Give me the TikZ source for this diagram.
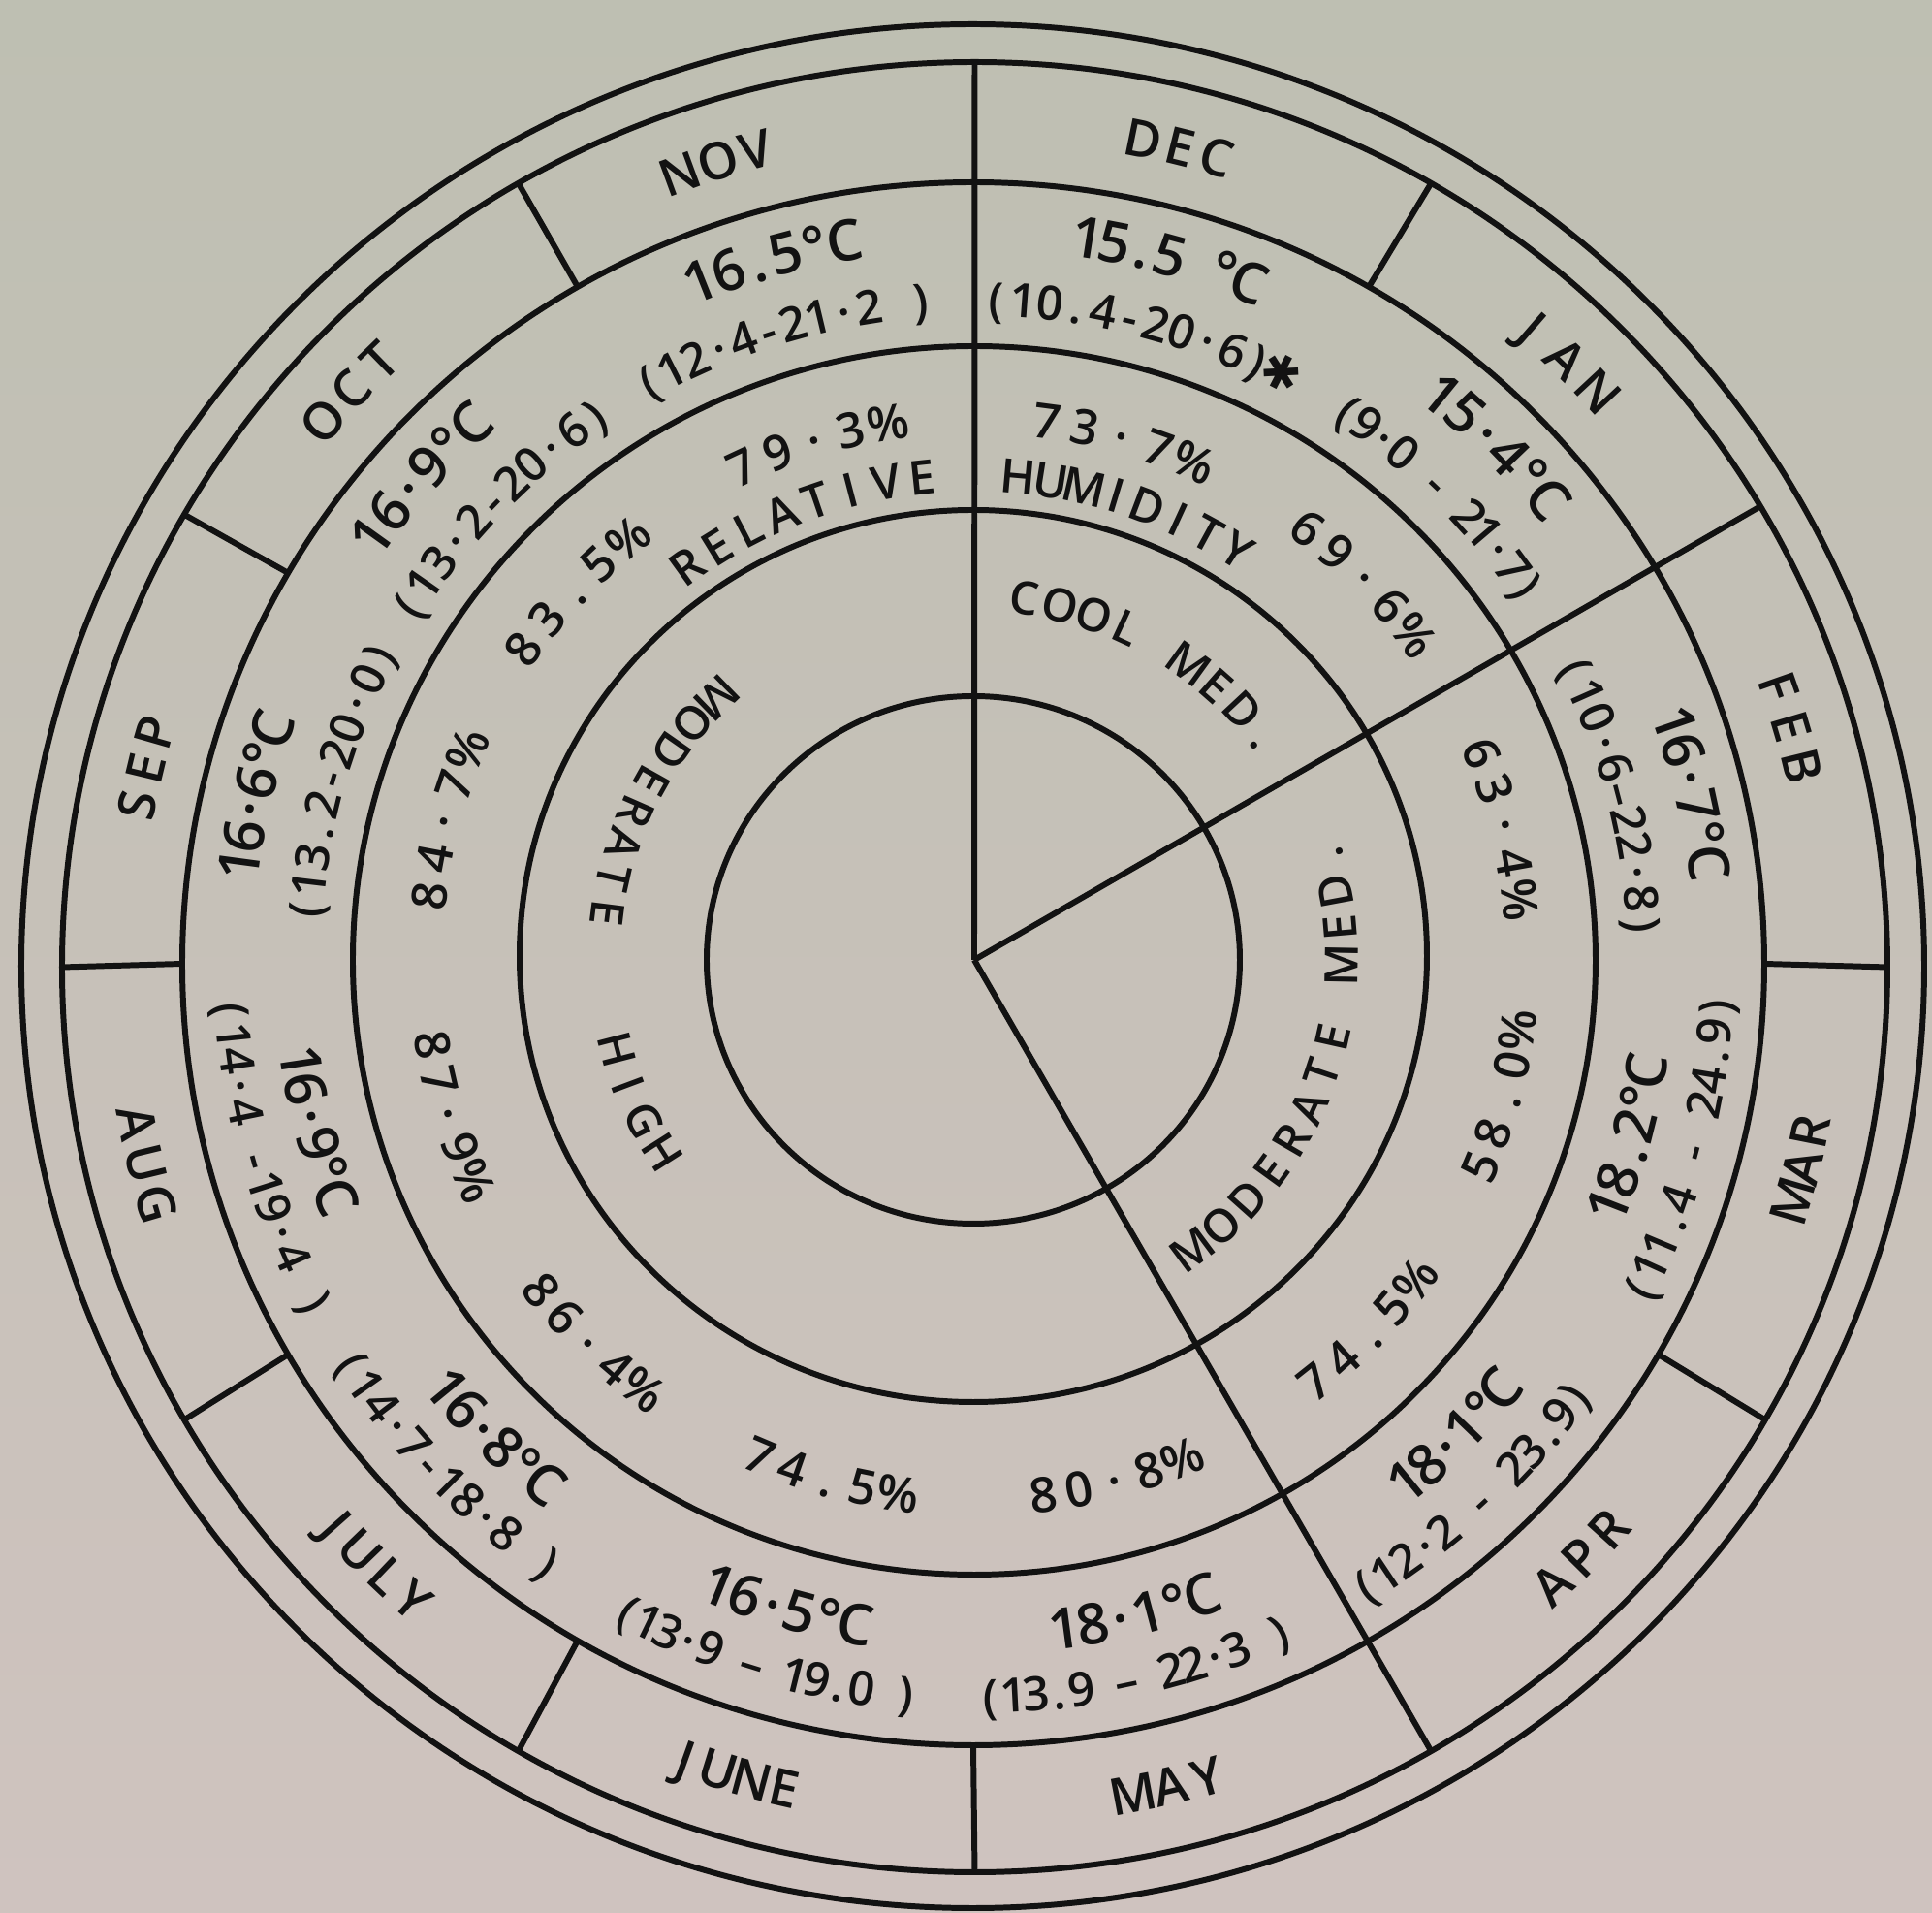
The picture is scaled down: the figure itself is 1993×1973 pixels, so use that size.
\documentclass[tikz,border=0pt]{standalone}
\usepackage{fontspec}
\newfontfamily\lf{Open Sans Semibold}
\newfontfamily\djf{DejaVu Sans}
\definecolor{ink}{RGB}{18,18,18}
\definecolor{bgtop}{RGB}{190,191,178}
\definecolor{bgbot}{RGB}{207,195,191}
\newcommand\arcchar[5]{\node[#4,anchor=base,rotate=#3] at (#1,#2) {#5};}
\ExplSyntaxOn
\fp_new:N \l_arc_ang_fp
\tl_new:N \l_arc_x_tl
\tl_new:N \l_arc_y_tl
\tl_new:N \l_arc_r_tl
\int_new:N \l_arc_n_int
\int_new:N \l_arc_i_int
% #1 baseline radius, #2 centre angle, #3 pitch, #4 direction (-1 clockwise / 1 counter-clockwise), #5 style, #6 text
\NewDocumentCommand \arcstr { m m m m m m }
 {
   \int_set:Nn \l_arc_n_int { \tl_count:n {#6} }
   \int_zero:N \l_arc_i_int
   \tl_map_inline:nn {#6}
    {
      \int_incr:N \l_arc_i_int
      \fp_set:Nn \l_arc_ang_fp { (#2) + (#4) * ( \int_use:N \l_arc_i_int - ( \int_use:N \l_arc_n_int + 1 ) / 2 ) * (#3) / (#1) * 180 / pi }
      \tl_set:Nx \l_arc_x_tl { \fp_eval:n { round( (#1) * cosd ( \l_arc_ang_fp ) , 2) } }
      \tl_set:Nx \l_arc_y_tl { \fp_eval:n { round( (#1) * sind ( \l_arc_ang_fp ) , 2) } }
      \tl_set:Nx \l_arc_r_tl { \fp_eval:n { round( \l_arc_ang_fp + (#4) * 90 , 2) } }
      \arcchar { \l_arc_x_tl } { \l_arc_y_tl } { \l_arc_r_tl } {#5} {##1}
    }
 }
\ExplSyntaxOff
\tikzset{
  chr/.style={inner sep=0pt, outer sep=0pt, text=ink},
  mon/.style={chr, font=\lf\fontsize{15.1}{17}\selectfont},
  tmp/.style={chr, font=\lf\fontsize{16.7}{18}\selectfont},
  rng/.style={chr, font=\lf\fontsize{13.9}{15}\selectfont},
  hum/.style={chr, font=\lf\fontsize{14.3}{16}\selectfont},
  lbl/.style={chr, font=\lf\fontsize{13.9}{15}\selectfont},
  inn/.style={chr, font=\lf\fontsize{13.5}{15}\selectfont},
  ring/.style={draw=ink, line width=1.7pt},
}
\begin{document}
\begin{tikzpicture}[x=0.01cm,y=0.01cm]
\shade[top color=bgtop,bottom color=bgbot] (-1005,-983) rectangle (988,990);
\useasboundingbox (-1005,-983) rectangle (988,990);
\coordinate (O) at (0,0);
% rings (slightly elliptical, as photographed)
\draw[ring] (-1.5,-6.5) ellipse[x radius=981.5, y radius=971.5];
\draw[ring] (0.5,-7.5) ellipse[x radius=941.5, y radius=933.5];
\draw[ring] (-1,-4) ellipse[x radius=816, y radius=806];
\draw[ring] (0,-0.5) ellipse[x radius=641, y radius=633.5];
\draw[ring] (-1,4) ellipse[x radius=468, y radius=460];
\draw[ring] (-1,0) ellipse[x radius=275, y radius=272];
% spokes
\coordinate (s90) at (0.5,926);
\coordinate (s30) at ({0.5+941.5*cos(30.6)},{-7.5+933.5*sin(30.6)});
\coordinate (s300) at ({0.5+941.5*cos(-60)},{-7.5+933.5*sin(-60)});
\draw[ring] (O) -- (s90);
\draw[ring] (O) -- (s30);
\draw[ring] (O) -- (s300);
% month dividers
\foreach \a in {0,60,120,150,180,210,240,270,330}
  \draw[ring] ({-1+816*cos(\a)},{-4+806*sin(\a)}) -- ({0.5+941.5*cos(\a)},{-7.5+933.5*sin(\a)});
% months
\begin{scope}[shift={(0,-6)}, xscale=1.005, yscale=0.994]
\arcstr{856}{76}{38}{-1}{mon}{DEC}
\arcstr{856}{107.5}{40}{-1}{mon}{NOV}
\arcstr{856}{137}{42}{-1}{mon}{OCT}
\arcstr{856}{166.5}{38}{-1}{mon}{SEP}
\arcstr{856}{46}{46}{-1}{mon}{JAN}
\arcstr{856}{16.5}{42}{-1}{mon}{FEB}
\arcstr{894}{346.2}{38}{1}{mon}{MAR}
\arcstr{894}{315.4}{42}{1}{mon}{APR}
\arcstr{894}{283.3}{40}{1}{mon}{MAY}
\arcstr{894}{253.7}{36}{1}{mon}{JUNE}
\arcstr{894}{225.2}{38}{1}{mon}{JULY}
\arcstr{894}{193.6}{44}{1}{mon}{AUG}
\end{scope}
% temperatures
\begin{scope}[shift={(0,-2)}, xscale=1.006, yscale=0.994]
\arcstr{739}{74.7}{28}{-1}{tmp}{15.5~°C}
\arcstr{670}{75.4}{27}{-1}{rng}{(10.4-20·6){\djf ✱}}
\arcstr{739}{105.9}{30}{-1}{tmp}{16.5°C}
\arcstr{670}{106.8}{26}{-1}{rng}{(12·4-21·2~)}
\arcstr{739}{138.6}{30}{-1}{tmp}{16·9°C}
\arcstr{670}{136}{27}{-1}{rng}{(13·2-20·6)}
\arcstr{739}{166.9}{28}{-1}{tmp}{16·6°C}
\arcstr{670}{164}{27}{-1}{rng}{(13.2-20·0)}
\arcstr{739}{45}{30}{-1}{tmp}{15·4°C}
\arcstr{670}{45.3}{23}{-1}{rng}{(9·0~-~21·7)}
\arcstr{739}{13.4}{29}{-1}{tmp}{16·7°C}
\arcstr{670}{14.7}{27}{-1}{rng}{(10·6–22·8)}
\arcstr{719}{344.7}{30}{1}{tmp}{18.2°C}
\arcstr{780}{345}{26}{1}{rng}{(11.4~-~24.9)}
\arcstr{719}{315}{28}{1}{tmp}{18·1°C}
\arcstr{780}{312.8}{25}{1}{rng}{(12·2~-~23.9)}
\arcstr{719}{283.6}{30}{1}{tmp}{18·1°C}
\arcstr{780}{282.7}{24}{1}{rng}{(13.9~–~22·3~)}
\arcstr{719}{254}{30}{1}{tmp}{16·5°C}
\arcstr{780}{253.5}{23.5}{1}{rng}{(13·9~–~19.0~)}
\arcstr{719}{225.1}{29}{1}{tmp}{16·8°C}
\arcstr{780}{224.1}{27}{1}{rng}{(14·7-18·8~)}
\arcstr{719}{194.5}{30}{1}{tmp}{16·9°C}
\arcstr{780}{195.7}{27}{1}{rng}{(14·4~-19·4~)}
\end{scope}
% relative humidity
\begin{scope}[shift={(0,2)}, xscale=1.007, yscale=0.993]
\arcstr{544}{74.4}{38}{-1}{hum}{73·7\%}
\arcstr{544}{107}{38}{-1}{hum}{79·3\%}
\arcstr{544}{137.2}{38}{-1}{hum}{83.5\%}
\arcstr{544}{165.4}{38}{-1}{hum}{84·7\%}
\arcstr{544}{44.6}{38}{-1}{hum}{69·6\%}
\arcstr{544}{14.2}{38}{-1}{hum}{63·4\%}
\arcstr{580}{344.8}{38}{1}{hum}{58.0\%}
\arcstr{580}{315.9}{38}{1}{hum}{74.5\%}
\arcstr{580}{284.8}{38}{1}{hum}{80·8\%}
\arcstr{580}{254.5}{38}{1}{hum}{74.5\%}
\arcstr{580}{225.4}{38}{1}{hum}{86·4\%}
\arcstr{580}{196.8}{38}{1}{hum}{87·9\%}
\arcstr{484}{111}{36}{-1}{lbl}{RELATIVE}
\arcstr{484}{71.2}{33}{-1}{lbl}{HUMIDITY}
\end{scope}
% inner ring
\begin{scope}[shift={(-1,2)}, xscale=1.007, yscale=0.993]
\arcstr{360}{59.7}{35}{-1}{inn}{COOL~MED.}
\arcstr{394}{341.5}{40}{1}{inn}{MODERATE~MED.}
\arcstr{394}{153.5}{38}{1}{inn}{MODERATE}
\arcstr{394}{203.5}{41}{1}{inn}{HIGH}
\end{scope}
\end{tikzpicture}
\end{document}
